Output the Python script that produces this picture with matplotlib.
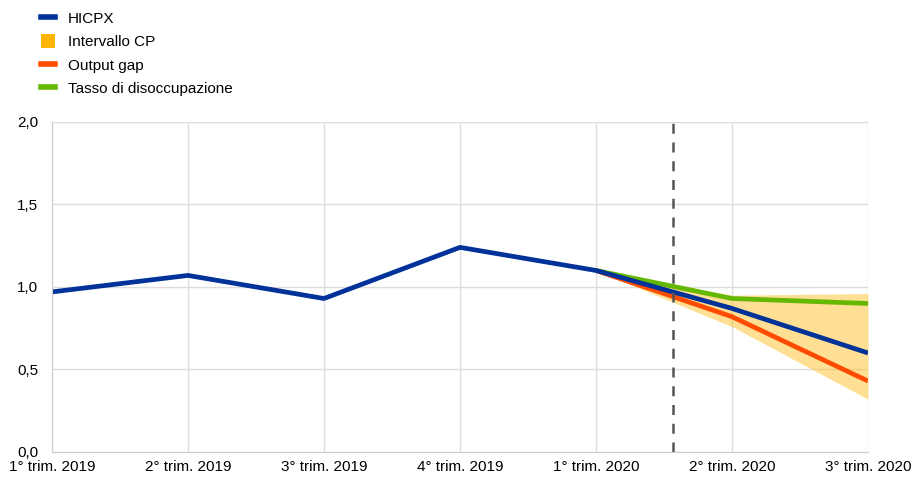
import numpy as np
import matplotlib.pyplot as plt
from matplotlib.lines import Line2D
from matplotlib.patches import Patch

plt.rcParams['font.family'] = ['Liberation Sans', 'DejaVu Sans']

quarters = ['1° trim. 2019', '2° trim. 2019', '3° trim. 2019', '4° trim. 2019',
            '1° trim. 2020', '2° trim. 2020', '3° trim. 2020']
hicpx = [0.97, 1.07, 0.93, 1.24, 1.10, 0.87, 0.60]

# scenarios start from the last observed quarter
proj_idx = [4, 5, 6]
output_gap = [1.10, 0.82, 0.43]
unemployment = [1.10, 0.93, 0.90]
band_low = [1.10, 0.76, 0.32]
band_high = [1.10, 0.95, 0.96]

cut_off = 4.57

blue = '#003299'
orange = '#FF4B00'
green = '#65B800'
yellow = '#FFB400'

fig = plt.figure(figsize=(9.15, 4.79), dpi=100)
ax = fig.add_axes([0.0568, 0.0564, 0.8918, 0.6890])

x = np.arange(len(quarters))
ax.fill_between(proj_idx, band_low, band_high, color=yellow, alpha=0.42, linewidth=0)
ax.plot(proj_idx, unemployment, color=green, lw=3.4, solid_capstyle='butt')
ax.plot(proj_idx, output_gap, color=orange, lw=3.4, solid_capstyle='butt')
ax.plot(x, hicpx, color=blue, lw=3.4, solid_capstyle='butt')

ax.axvline(cut_off, color='#555555', lw=1.8, ls=(0, (4, 3.5)))

ax.set_xlim(0, len(quarters) - 1)
ax.set_ylim(0, 2.0)
ax.set_xticks(x)
ax.set_xticklabels(quarters)
yt = [0, 0.5, 1.0, 1.5, 2.0]
ax.set_yticks(yt)
ax.set_yticklabels([f'{v:.1f}'.replace('.', ',') for v in yt])

ax.grid(True, color='#DDDDDD', lw=1)
ax.set_axisbelow(True)
for side in ['top', 'right']:
    ax.spines[side].set_visible(False)
for side in ['left', 'bottom']:
    ax.spines[side].set_color('#CCCCCC')
ax.tick_params(length=0, labelsize=11, colors='#000000')
ax.tick_params(axis='y', pad=10)
ax.tick_params(axis='x', pad=6)

handles = [
    Line2D([], [], color=blue, lw=4),
    Patch(facecolor=yellow, edgecolor='none'),
    Line2D([], [], color=orange, lw=4),
    Line2D([], [], color=green, lw=4),
]
labels = ['HICPX', 'Intervallo CP', 'Output gap', 'Tasso di disoccupazione']
fig.legend(handles, labels, loc='upper left', bbox_to_anchor=(0.033, 1.0),
           frameon=False, fontsize=11, handlelength=0.95, handleheight=1.0,
           handletextpad=0.8, labelspacing=0.55, borderaxespad=0.3)

fig.savefig('out.png', dpi=100)
